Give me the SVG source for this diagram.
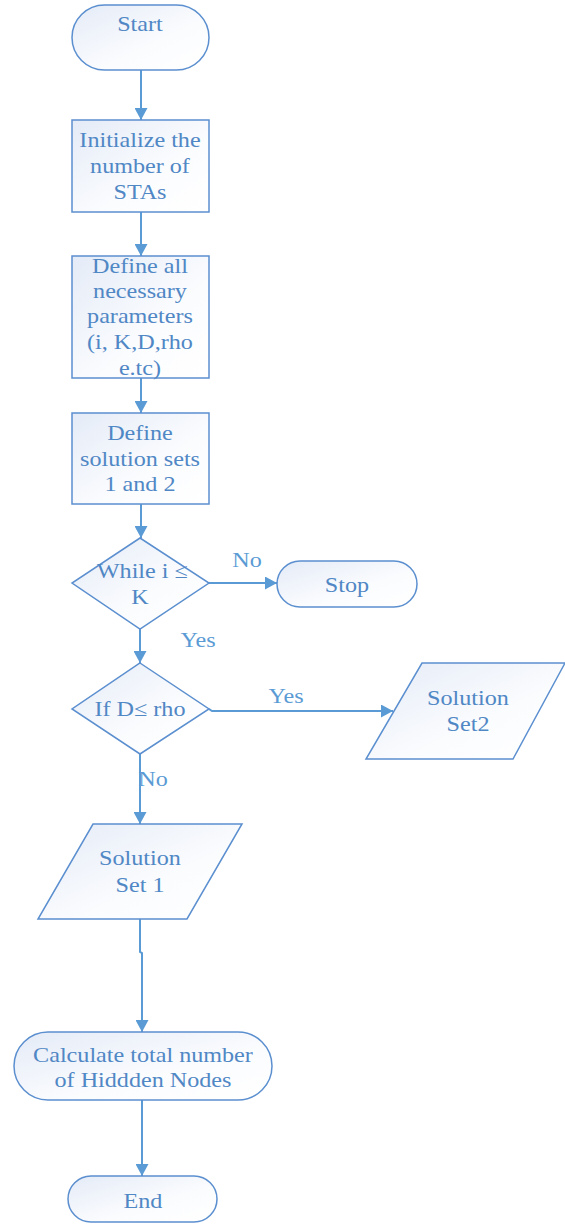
<svg xmlns="http://www.w3.org/2000/svg" width="565" height="1224" viewBox="0 0 565 1224">
<defs>
<linearGradient id="g" x1="0" y1="0" x2="1" y2="1">
<stop offset="0" stop-color="#e4ebf7"/>
<stop offset="0.6" stop-color="#fbfcfe"/>
<stop offset="1" stop-color="#ffffff"/>
</linearGradient>
<marker id="ah" viewBox="0 0 12 13" refX="12" refY="6.5" markerWidth="12" markerHeight="13" markerUnits="userSpaceOnUse" orient="auto">
<path d="M0,0 L12,6.5 L0,13 Z" fill="#5b9bd5"/>
</marker>
<style>
.n{fill:url(#g);stroke:#5b8fcf;stroke-width:1.5}
.t{font-family:"Liberation Serif","Times New Roman",serif;font-size:21px;fill:#5087c5;text-anchor:middle}
.c{fill:none;stroke:#5b9bd5;stroke-width:2;marker-end:url(#ah)}
.l{font-family:"Liberation Serif","Times New Roman",serif;font-size:21px;fill:#5b9bd5;text-anchor:middle}
</style>
</defs>
<g id="connectors">
<line class="c" x1="141" y1="70" x2="141" y2="120"/>
<line class="c" x1="141" y1="212" x2="141" y2="256"/>
<line class="c" x1="141" y1="378" x2="141" y2="413"/>
<line class="c" x1="141" y1="504" x2="141" y2="538"/>
<line class="c" x1="209" y1="583" x2="277" y2="583"/>
<line class="c" x1="140" y1="629" x2="140" y2="663"/>
<polyline class="c" points="209,709 212,711 393,711"/>
<line class="c" x1="140" y1="754" x2="140" y2="824"/>
<polyline class="c" points="140,919 140,952 142,953 142,1032"/>
<line class="c" x1="142" y1="1100" x2="142" y2="1176"/>
<g transform="matrix(1.15,0,0,1,-37.05,0)"><text class="l" x="247" y="567">No</text></g>
<g transform="matrix(1.15,0,0,1,-29.7,0)"><text class="l" x="198" y="647">Yes</text></g>
<g transform="matrix(1.15,0,0,1,-42.9,0)"><text class="l" x="286" y="703">Yes</text></g>
<g transform="matrix(1.15,0,0,1,-22.95,0)"><text class="l" x="153" y="786">No</text></g>
</g>
<g id="start">
<rect class="n" x="72" y="5" width="137" height="65" rx="32.5"/>
<g transform="matrix(1.15,0,0,1,-21,0)"><text class="t" x="140" y="31">Start</text></g>
</g>
<g id="init">
<rect class="n" x="72" y="120" width="137" height="92"/>
<g transform="matrix(1.15,0,0,1,-21,0)">
<text class="t" x="140" y="147">Initialize the</text>
<text class="t" x="140" y="173">number of</text>
<text class="t" x="140" y="199">STAs</text>
</g>
</g>
<g id="params">
<rect class="n" x="72" y="256" width="137" height="122"/>
<g transform="matrix(1.15,0,0,1,-21,0)">
<text class="t" x="140" y="273">Define all</text>
<text class="t" x="140" y="298">necessary</text>
<text class="t" x="140" y="323">parameters</text>
<text class="t" x="140" y="349">(i, K,D,rho</text>
<text class="t" x="140" y="375">e.tc)</text>
</g>
</g>
<g id="sets">
<rect class="n" x="72" y="413" width="137" height="91"/>
<g transform="matrix(1.15,0,0,1,-21,0)">
<text class="t" x="140" y="440">Define</text>
<text class="t" x="140" y="466">solution sets</text>
<text class="t" x="140" y="491">1 and 2</text>
</g>
</g>
<g id="while">
<polygon class="n" points="140,538 209,583 140,629 72,583"/>
<g transform="matrix(1.15,0,0,1,-21,0)">
<text class="t" x="142" y="578">While i ≤</text>
<text class="t" x="140" y="604">K</text>
</g>
</g>
<g id="stop">
<rect class="n" x="277" y="561" width="140" height="46" rx="23"/>
<g transform="matrix(1.15,0,0,1,-52.05,0)"><text class="t" x="347" y="592">Stop</text></g>
</g>
<g id="if">
<polygon class="n" points="140,663 209,709 140,754 72,709"/>
<g transform="matrix(1.15,0,0,1,-21,0)"><text class="t" x="140" y="716">If D≤ rho</text></g>
</g>
<g id="set2">
<polygon class="n" points="422,663 565,663 513,759 366,759"/>
<g transform="matrix(1.15,0,0,1,-70.2,0)">
<text class="t" x="468" y="705">Solution</text>
<text class="t" x="468" y="731">Set2</text>
</g>
</g>
<g id="set1">
<polygon class="n" points="93,824 242,824 187,919 38,919"/>
<g transform="matrix(1.15,0,0,1,-21,0)">
<text class="t" x="140" y="865">Solution</text>
<text class="t" x="140" y="892">Set 1</text>
</g>
</g>
<g id="calc">
<rect class="n" x="14" y="1032" width="258" height="68" rx="34"/>
<g transform="matrix(1.15,0,0,1,-21.45,0)">
<text class="t" x="143" y="1062">Calculate total number</text>
<text class="t" x="143" y="1087">of Hiddden Nodes</text>
</g>
</g>
<g id="end">
<rect class="n" x="68" y="1176" width="149" height="46" rx="23"/>
<g transform="matrix(1.15,0,0,1,-21.45,0)"><text class="t" x="143" y="1208">End</text></g>
</g>
</svg>
